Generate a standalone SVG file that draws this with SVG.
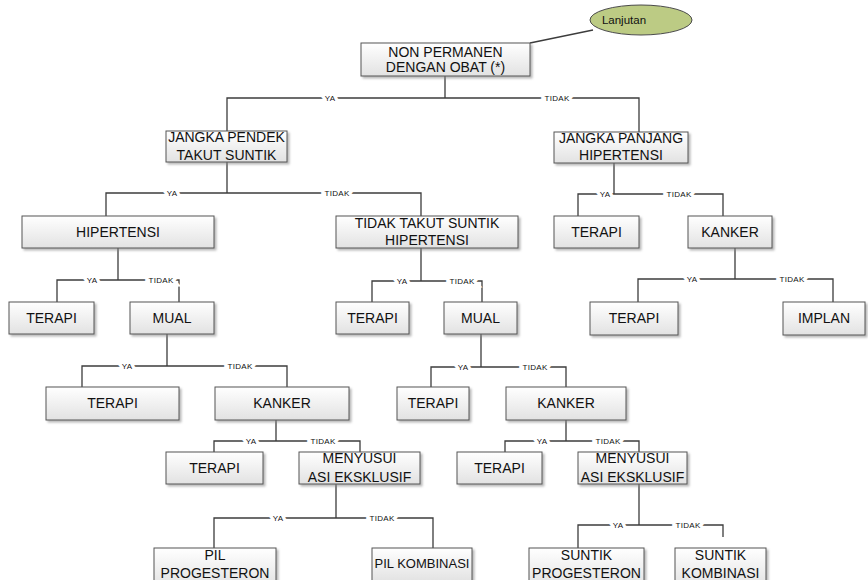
<svg xmlns="http://www.w3.org/2000/svg" width="868" height="580" viewBox="0 0 868 580">
<style>
.box{fill:url(#g);stroke:#555;stroke-width:1;filter:url(#sh)}
.t{font-family:"Liberation Sans",Arial,sans-serif;font-size:14px;fill:#111;text-anchor:middle}
.c{fill:none;stroke:#3c3c3c;stroke-width:1.3}
.l{font-family:"Liberation Sans",Arial,sans-serif;font-size:8px;fill:#111;text-anchor:middle;letter-spacing:0.3px;paint-order:stroke;stroke:#fff;stroke-width:7px;stroke-linejoin:miter}
</style>
<defs>
<linearGradient id="g" x1="0" y1="0" x2="0" y2="1"><stop offset="0" stop-color="#ffffff"/><stop offset="1" stop-color="#e2e2e2"/></linearGradient>
<filter id="sh" x="-5%" y="-10%" width="115%" height="140%"><feDropShadow dx="2" dy="2" stdDeviation="1" flood-color="#888" flood-opacity="0.6"/></filter>
</defs>
<rect width="868" height="580" fill="#fff"/>
<g id="connectors">
<line class="c" x1="530" y1="43" x2="593" y2="30"/>
<path class="c" d="M445 76V98M227 131V98H639V132"/>
<path class="c" d="M227 162V193M106 216V193H421V216"/>
<path class="c" d="M614 163V194M578 216V194H723V216"/>
<path class="c" d="M118 248V280M57 302V280H179V302"/>
<path class="c" d="M421 248V281M372 302V281H482V302"/>
<path class="c" d="M735 248V279M638 302V279H833V302"/>
<path class="c" d="M167 334V366M82 387V366H287V387"/>
<path class="c" d="M481 334V367M431 387V367H566V387"/>
<path class="c" d="M276 420V441M214 452V441H360V452"/>
<path class="c" d="M566 420V441M505 452V441H639V452"/>
<path class="c" d="M336 484V518M214 548V518H433V548"/>
<path class="c" d="M639 484V525M578 548V525H723V537"/>
<text class="l" x="330" y="101">YA</text><text class="l" x="557" y="101">TIDAK</text>
<text class="l" x="172" y="196">YA</text><text class="l" x="337" y="196">TIDAK</text>
<text class="l" x="605" y="197">YA</text><text class="l" x="679" y="197">TIDAK</text>
<text class="l" x="92" y="283">YA</text><text class="l" x="161" y="283">TIDAK</text>
<text class="l" x="402" y="284">YA</text><text class="l" x="462" y="284">TIDAK</text>
<text class="l" x="692" y="282">YA</text><text class="l" x="792" y="282">TIDAK</text>
<text class="l" x="127" y="369">YA</text><text class="l" x="240" y="369">TIDAK</text>
<text class="l" x="463" y="370">YA</text><text class="l" x="535" y="370">TIDAK</text>
<text class="l" x="251" y="444">YA</text><text class="l" x="323" y="444">TIDAK</text>
<text class="l" x="542" y="444">YA</text><text class="l" x="608" y="444">TIDAK</text>
<text class="l" x="278" y="521">YA</text><text class="l" x="382" y="521">TIDAK</text>
<text class="l" x="618" y="528">YA</text><text class="l" x="688" y="528">TIDAK</text>
</g>
<g id="n-lanjutan"><ellipse cx="641" cy="20" rx="51" ry="15" fill="#bccb84" stroke="#4a4a4a" stroke-width="1"/><text x="624" y="24" font-family="Liberation Sans, Arial, sans-serif" font-size="11.5" fill="#111" text-anchor="middle">Lanjutan</text></g>
<g id="n-root"><rect class="box" x="361" y="43" width="169" height="33"/><text class="t" x="445.5" y="57">NON PERMANEN</text><text class="t" x="445.5" y="72">DENGAN OBAT (*)</text></g>
<g id="n-jpendek"><rect class="box" x="166" y="131" width="121" height="31"/><text class="t" x="226.5" y="142">JANGKA PENDEK</text><text class="t" x="226.5" y="160">TAKUT SUNTIK</text></g>
<g id="n-jpanjang"><rect class="box" x="554" y="132" width="134" height="31"/><text class="t" x="621" y="143">JANGKA PANJANG</text><text class="t" x="621" y="160">HIPERTENSI</text></g>
<g id="n-hip1"><rect class="box" x="22" y="216" width="192" height="32"/><text class="t" x="118" y="237">HIPERTENSI</text></g>
<g id="n-tts"><rect class="box" x="336" y="216" width="182" height="32"/><text class="t" x="427" y="228">TIDAK TAKUT SUNTIK</text><text class="t" x="427" y="245">HIPERTENSI</text></g>
<g id="n-terapi-r1"><rect class="box" x="554" y="216" width="85" height="32"/><text class="t" x="596.5" y="237">TERAPI</text></g>
<g id="n-kanker-r"><rect class="box" x="688" y="216" width="84" height="32"/><text class="t" x="730" y="237">KANKER</text></g>
<g id="n-terapi-l1"><rect class="box" x="9" y="302" width="85" height="32"/><text class="t" x="51.5" y="323">TERAPI</text></g>
<g id="n-mual-l"><rect class="box" x="130" y="302" width="84" height="32"/><text class="t" x="172" y="323">MUAL</text></g>
<g id="n-terapi-m1"><rect class="box" x="336" y="302" width="73" height="32"/><text class="t" x="372.5" y="323">TERAPI</text></g>
<g id="n-mual-m"><rect class="box" x="444" y="302" width="73" height="32"/><text class="t" x="480.5" y="323">MUAL</text></g>
<g id="n-terapi-r2"><rect class="box" x="590" y="302" width="88" height="33"/><text class="t" x="634" y="323">TERAPI</text></g>
<g id="n-implan"><rect class="box" x="783" y="302" width="82" height="33"/><text class="t" x="824" y="323">IMPLAN</text></g>
<g id="n-terapi-l2"><rect class="box" x="46" y="387" width="133" height="33"/><text class="t" x="112.5" y="408">TERAPI</text></g>
<g id="n-kanker-l"><rect class="box" x="215" y="387" width="134" height="33"/><text class="t" x="282" y="408">KANKER</text></g>
<g id="n-terapi-m2"><rect class="box" x="397" y="387" width="72" height="33"/><text class="t" x="433" y="408">TERAPI</text></g>
<g id="n-kanker-m"><rect class="box" x="506" y="387" width="120" height="33"/><text class="t" x="566" y="408">KANKER</text></g>
<g id="n-terapi-l3"><rect class="box" x="166" y="452" width="97" height="32"/><text class="t" x="214.5" y="473">TERAPI</text></g>
<g id="n-menyusui-l"><rect class="box" x="299" y="452" width="121" height="32"/><text class="t" x="359.5" y="463">MENYUSUI</text><text class="t" x="359.5" y="482">ASI EKSKLUSIF</text></g>
<g id="n-terapi-m3"><rect class="box" x="457" y="452" width="85" height="32"/><text class="t" x="499.5" y="473">TERAPI</text></g>
<g id="n-menyusui-r"><rect class="box" x="578" y="452" width="109" height="32"/><text class="t" x="632.5" y="463">MENYUSUI</text><text class="t" x="632.5" y="482">ASI EKSKLUSIF</text></g>
<g id="n-pil-prog"><rect class="box" x="154" y="548" width="122" height="40"/><text class="t" x="215" y="560">PIL</text><text class="t" x="215" y="578">PROGESTERON</text></g>
<g id="n-pil-komb"><rect class="box" x="372" y="548" width="100" height="34"/><text class="t" x="422" y="568" style="font-size:13px">PIL KOMBINASI</text></g>
<g id="n-suntik-prog"><rect class="box" x="529" y="548" width="115" height="40"/><text class="t" x="586.5" y="560">SUNTIK</text><text class="t" x="586.5" y="578">PROGESTERON</text></g>
<g id="n-suntik-komb"><rect class="box" x="675" y="548" width="91" height="40"/><text class="t" x="720.5" y="560">SUNTIK</text><text class="t" x="720.5" y="578">KOMBINASI</text></g>
</svg>
